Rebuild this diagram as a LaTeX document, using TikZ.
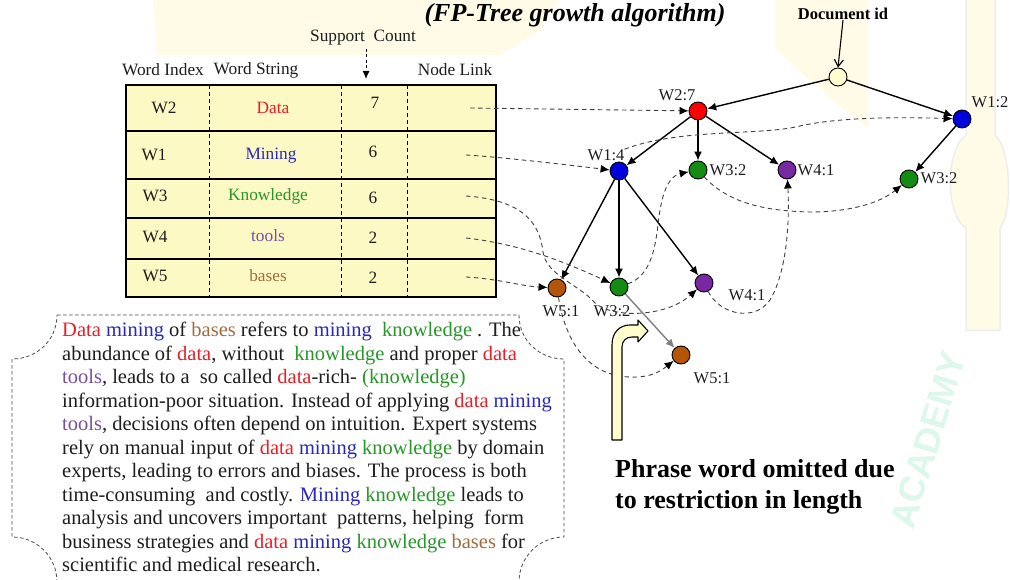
\documentclass[tikz,border=0pt]{standalone}
\usepackage{fontspec}
\setmainfont{Liberation Serif}
\setsansfont{Liberation Sans}
\usetikzlibrary{arrows.meta}
\definecolor{tabfill}{RGB}{253,249,196}
\definecolor{cred}{RGB}{228,32,40}
\definecolor{cblue}{RGB}{40,40,190}
\definecolor{cgreen}{RGB}{40,150,40}
\definecolor{cpurple}{RGB}{120,80,160}
\definecolor{cbrown}{RGB}{160,110,60}
\definecolor{nred}{RGB}{255,0,0}
\definecolor{nblue}{RGB}{0,0,220}
\definecolor{ngreen}{RGB}{20,140,20}
\definecolor{npurple}{RGB}{120,40,160}
\definecolor{nbrown}{RGB}{180,85,10}
\definecolor{rootfill}{RGB}{255,255,210}
\definecolor{bentfill}{RGB}{255,252,205}
\definecolor{txt}{RGB}{30,30,30}
\definecolor{wmyellow}{RGB}{255,251,230}
\definecolor{wmgray}{RGB}{238,238,238}
\definecolor{wmgreen}{RGB}{220,247,236}
\newcommand\wred[1]{\textcolor{cred}{#1}}
\newcommand\wblue[1]{\textcolor{cblue}{#1}}
\newcommand\wgreen[1]{\textcolor{cgreen}{#1}}
\newcommand\wpurp[1]{\textcolor{cpurple}{#1}}
\newcommand\wbrown[1]{\textcolor{cbrown}{#1}}
\begin{document}
\begin{tikzpicture}[x=1pt,y=-1pt,
  tn/.style={circle,draw=black,line width=0.9pt,minimum size=18pt,inner sep=0pt},
  lbl/.style={font=\fontsize{16.5}{18}\selectfont,inner sep=0pt,text=txt},
  cell/.style={font=\fontsize{17.3}{20}\selectfont,inner sep=0pt,text=txt},
  tree/.style={-{Latex[length=9pt,width=8pt]},line width=1.4pt},
  link/.style={dash pattern=on 4.5pt off 3.5pt,line width=0.9pt,draw=black!75,-{Latex[length=9pt,width=8pt,fill=black,color=black]}},
  rowline/.style={line width=1.4pt},
  colline/.style={dash pattern=on 4pt off 3pt,line width=1pt},
  wm/.style={fill=wmyellow},
]
\useasboundingbox (0,0) rectangle (1010,580);
\fill[white] (0,0) rectangle (1010,580);

% ---------- faint background watermark ----------
\path[wm] (153,-2) -- (560,-2) -- (540,30) -- (500,55) -- (157,55) -- cycle;
\path[wm] (775,-2) -- (868,-2) -- (868,128) -- (830,98) -- (775,48) -- cycle;
\path[wm,draw=wmgray,line width=1.5pt] (966,-2) -- (966,135) .. controls (945,150) and (945,215) .. (966,228)
   -- (966,330) -- (1000,330) -- (1000,228) .. controls (1012,215) and (1012,150) .. (995,135)
   -- (995,-2) -- cycle;
\node[font=\fontsize{36}{40}\sffamily\bfseries\selectfont,text=wmgreen,rotate=73,inner sep=0pt] (wmtext) at (928,440) {ACADEMY};

% ---------- title and headers ----------
\node[font=\fontsize{26}{29}\bfseries\itshape\selectfont,inner sep=0pt] (title) at (575,15) {(FP-Tree growth algorithm)};
\node[cell] (hsup) at (363,38) {Support\ \ Count};
\node[cell] (hidx) at (163,70) {Word Index};
\node[cell] (hstr) at (256,70) {Word String};
\node[cell] (hlink) at (455,70) {Node Link};
\coordinate (supa) at (366,49);
\coordinate (supb) at (366,79);
\draw[dash pattern=on 3pt off 2.5pt,line width=0.9pt,-{Latex[length=8pt,width=7pt]}] (supa) -- (supb);

% ---------- table ----------
\fill[tabfill] (126,85) rectangle (496,297);
\draw[rowline] (126,131) -- (496,131);
\draw[rowline] (126,179) -- (496,179);
\draw[rowline] (126,218) -- (496,218);
\draw[rowline] (126,259) -- (496,259);
\draw[colline] (209,85) -- (209,297);
\draw[colline] (341,85) -- (341,297);
\draw[colline] (407,85) -- (407,297);
\draw[line width=1.6pt] (126,85) rectangle (496,297);

\node[cell] (r1a) at (164,108) {W2};
\node[cell,text=cred] (r1b) at (273,108) {Data};
\node[cell] (r1c) at (375,103) {7};
\node[cell] (r2a) at (154,155) {W1};
\node[cell,text=cblue] (r2b) at (271,156) {Mining};
\node[cell] (r2c) at (373,152) {6};
\node[cell] (r3a) at (155,196) {W3};
\node[cell,text=cgreen] (r3b) at (268,196) {Knowledge};
\node[cell] (r3c) at (373,198) {6};
\node[cell] (r4a) at (155,237) {W4};
\node[cell,text=cpurple] (r4b) at (268,236) {tools};
\node[cell] (r4c) at (373,238) {2};
\node[cell] (r5a) at (155,276) {W5};
\node[cell,text=cbrown] (r5b) at (268,276) {bases};
\node[cell] (r5c) at (373,278) {2};

\coordinate (l1) at (470,108);
\coordinate (l2) at (466,155);
\coordinate (l3) at (466,196);
\coordinate (l4) at (466,238);
\coordinate (l5) at (466,277);

% ---------- tree ----------
\node[font=\fontsize{16.5}{18}\bfseries\selectfont,inner sep=0pt] (docid) at (843,14) {Document id};
\node[tn,fill=rootfill] (root) at (838,77) {};
\node[tn,fill=nred] (n27) at (698,111) {};
\node[tn,fill=nblue] (n12) at (962,119) {};
\node[tn,fill=nblue] (n14) at (619,171) {};
\node[tn,fill=ngreen] (n3m) at (698,170) {};
\node[tn,fill=npurple] (n4u) at (787,170) {};
\node[tn,fill=ngreen] (n3r) at (909,179) {};
\node[tn,fill=nbrown] (n5l) at (557,288) {};
\node[tn,fill=ngreen] (n3l) at (619,287) {};
\node[tn,fill=npurple] (n4l) at (704,283) {};
\node[tn,fill=nbrown] (n5f) at (681,355) {};

\node[lbl] (t27) at (677,95) {W2:7};
\node[lbl] (t12) at (990,102) {W1:2};
\node[lbl] (t14) at (606,155) {W1:4};
\node[lbl] (t3m) at (728,170) {W3:2};
\node[lbl] (t4u) at (816,170) {W4:1};
\node[lbl] (t3r) at (939,178) {W3:2};
\node[lbl] (t5l) at (561,311) {W5:1};
\node[lbl] (t3l) at (612,311) {W3:2};
\node[lbl] (t4l) at (747,295) {W4:1};
\node[lbl] (t5f) at (712,378) {W5:1};

\draw[line width=1.1pt,-{Straight Barb[length=7pt,width=9pt]}] (docid.south) -- (root.north);
\draw[tree] (root) -- (n27);
\draw[tree] (root) -- (n12);
\draw[tree] (n27) -- (n14);
\draw[tree] (n27) -- (n3m);
\draw[tree] (n27) -- (n4u);
\draw[tree] (n12) -- (n3r);
\draw[tree] (n14) -- (n5l);
\draw[tree] (n14) -- (n3l);
\draw[tree] (n14) -- (n4l);
\draw[line width=1.4pt,draw=black!50,-{Latex[length=9pt,width=8pt]}] (n3l) -- (n5f);

% ---------- node links ----------
\draw[link] (l1) -- (n27);
\draw[link] (l2) .. controls (500,157) and (560,164) .. (n14);
\draw[link] (l3) .. controls (525,200) and (540,225) .. (543,252)
   .. controls (546,275) and (580,285) .. (595,303)
   .. controls (612,318) and (665,318) .. (n4l);
\draw[link] (l4) .. controls (520,244) and (565,262) .. (n3l);
\draw[link] (l5) .. controls (500,279) and (520,286) .. (n5l);
\draw[link] (t14.north east) .. controls (680,128) and (760,136) .. (800,126)
   .. controls (840,117) and (900,117) .. (n12);
\draw[link] (n3l) .. controls (650,276) and (655,250) .. (658,225)
   .. controls (661,195) and (668,176) .. (n3m);
\draw[link] (n3m) .. controls (730,205) and (770,211) .. (810,212)
   .. controls (850,212) and (880,203) .. (n3r);
\draw[link] (n4l) .. controls (720,315) and (755,322) .. (770,300)
   .. controls (785,275) and (790,230) .. (n4u);
\draw[link] (n5l) .. controls (566,345) and (590,376) .. (630,377)
   .. controls (652,378) and (662,370) .. (n5f);

% ---------- bent arrow ----------
\draw[fill=bentfill,line width=1.1pt,line join=round]
  (612,440) -- (612,345) .. controls (612,332) and (620,325) .. (630,325)
  -- (638,325) -- (638,320) -- (648,331) -- (638,342) -- (638,337) -- (632,337)
  .. controls (626,337) and (622,341) .. (622,347) -- (622,440) -- cycle;

% ---------- text box ----------
\draw[dash pattern=on 3.5pt off 2.5pt,line width=0.8pt,draw=black!70]
  (57,315) -- (519,315) .. controls (519,340) and (539,359) .. (564,359)
  -- (564,537) .. controls (539,537) and (519,557) .. (519,582)
  -- (57,582) .. controls (57,557) and (37,537) .. (12,537)
  -- (12,359) .. controls (37,359) and (57,340) .. (57,315);
\node[anchor=north west,align=left,inner sep=0pt,text=txt,font=\fontsize{20.5}{23.5}\selectfont] (para) at (62,322) {%
\wred{Data} \wblue{mining} of \wbrown{bases} refers to \wblue{mining}\ \ \wgreen{knowledge} . The\\
abundance of \wred{data}, without\ \ \wgreen{knowledge} and proper \wred{data}\\
\wpurp{tools}, leads to a\ \ so called \wred{data}-rich- \wgreen{(knowledge)}\\
information-poor situation. Instead of applying \wred{data} \wblue{mining}\\
\wpurp{tools}, decisions often depend on intuition. Expert systems\\
rely on manual input of \wred{data} \wblue{mining} \wgreen{knowledge} by domain\\
experts, leading to errors and biases. The process is both\\
time-consuming\ \ and costly. \wblue{Mining} \wgreen{knowledge} leads to\\
analysis and uncovers important\ \ patterns, helping\ \ form\\
business strategies and \wred{data} \wblue{mining} \wgreen{knowledge} \wbrown{bases} for\\
scientific and medical research.};

\node[anchor=north west,align=left,inner sep=0pt,font=\fontsize{26}{31}\bfseries\selectfont] (phrase) at (615,459) {Phrase word omitted due\\to restriction in length};
\end{tikzpicture}
\end{document}
